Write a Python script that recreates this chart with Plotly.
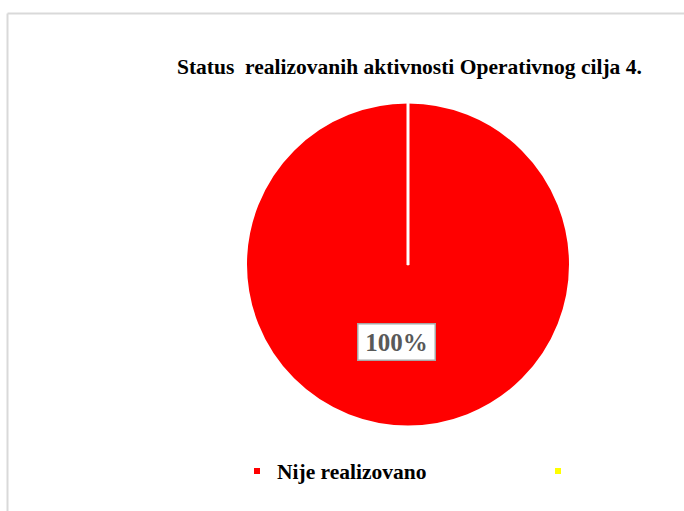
import plotly.graph_objects as go

title_text = "Status\u00a0 realizovanih aktivnosti Operativnog cilja 4."
categories = ["Nije realizovano", ""]
values = [100, 0]
colors = ["#FF0000", "#FFFF00"]

total = sum(values)
pct_label = f"{values[0] / total * 100:.0f}%"

W, H = 684, 511
fig = go.Figure()

# pie
fig.add_trace(go.Pie(
    labels=categories, values=values, sort=False, direction="clockwise", rotation=0,
    marker=dict(colors=colors, line=dict(color="white", width=2)),
    textinfo="none", hoverinfo="label+percent", showlegend=False,
    domain=dict(x=[246 / W, 570 / W], y=[1 - 427 / H, 1 - 102 / H]),
))

# legend entries (small square swatches), each in its own legend box
legend_ids = ["legend", "legend2"]
for name, col, lg in zip(categories, colors, legend_ids):
    fig.add_trace(go.Scatter(
        x=[None], y=[None], mode="markers", name=name if name else " ",
        marker=dict(symbol="square", size=6, color=col),
        showlegend=True, legend=lg,
    ))

cx, cy = 408 / W, 1 - 265 / H
shapes = [
    # slice boundary (0% slice edge) from centre to top
    dict(type="line", xref="paper", yref="paper", x0=cx, y0=cy, x1=cx, y1=1 - 102 / H,
         line=dict(color="white", width=3)),
    # outer frame lines
    dict(type="line", xref="paper", yref="paper", x0=7.5 / W, y0=1 - 13.5 / H, x1=1, y1=1 - 13.5 / H,
         line=dict(color="#D9D9D9", width=2)),
    dict(type="line", xref="paper", yref="paper", x0=7.5 / W, y0=1 - 13.5 / H, x1=7.5 / W, y1=0,
         line=dict(color="#D9D9D9", width=2)),
]

annotations = [
    dict(text=f"<b>{title_text}</b>", x=409 / W, y=1 - 67 / H, xref="paper", yref="paper",
         showarrow=False, xanchor="center", yanchor="middle",
         font=dict(family="Liberation Serif", size=21.5, color="black")),
    dict(text=f"<b>{pct_label}</b>", x=397 / W, y=1 - 342 / H, xref="paper", yref="paper",
         showarrow=False, xanchor="center", yanchor="middle",
         font=dict(family="Liberation Serif", size=25, color="#595959"),
         bgcolor="white", bordercolor="#A6A6A6", borderwidth=1.5, width=74, height=33),
]

legend_font = dict(family="Liberation Serif", size=21.5, color="black", weight="bold")
fig.update_layout(
    width=W, height=H, margin=dict(l=0, r=0, t=0, b=0),
    paper_bgcolor="white", plot_bgcolor="white",
    xaxis=dict(visible=False, domain=[0, 0.01]), yaxis=dict(visible=False, domain=[0, 0.01]),
    shapes=shapes, annotations=annotations,
    legend=dict(orientation="h", x=237 / W, y=1 - 471 / H, xanchor="left", yanchor="middle",
                font=legend_font, bgcolor="rgba(0,0,0,0)",
                itemclick=False, itemdoubleclick=False),
    legend2=dict(orientation="h", x=538 / W, y=1 - 471 / H, xanchor="left", yanchor="middle",
                 font=legend_font, bgcolor="rgba(0,0,0,0)",
                 itemclick=False, itemdoubleclick=False),
)

fig.write_html("out.html", config={"displayModeBar": False},
               post_script="document.body.style.margin='0';document.body.style.overflow='hidden';")
